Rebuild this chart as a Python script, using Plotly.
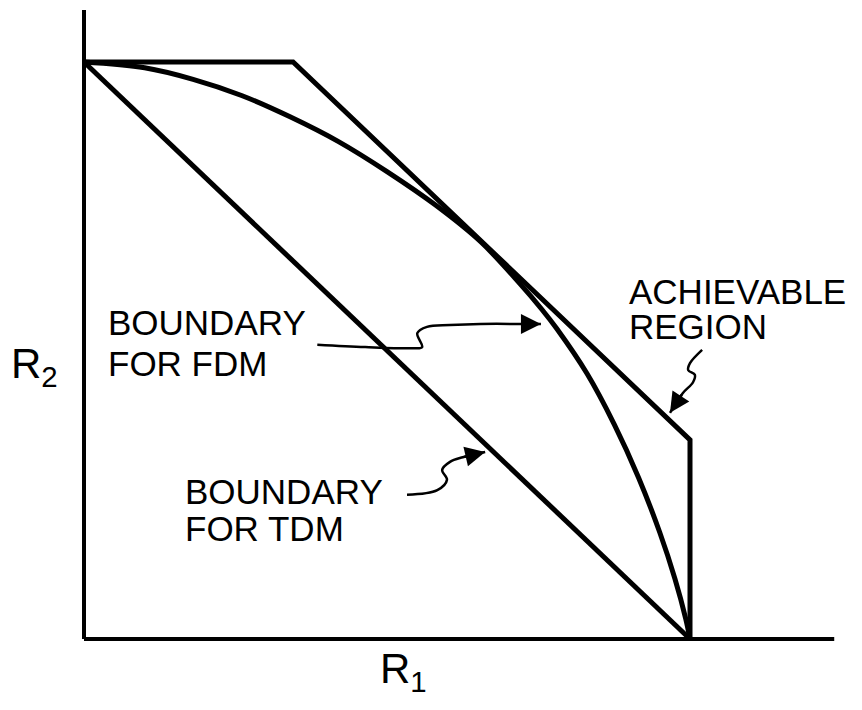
import plotly.graph_objects as go

# Rate pairs (R1, R2), normalised so the single-user capacities are 1
region_r1 = [0.0, 0.345, 1.0, 1.0]
region_r2 = [1.0, 1.0, 0.345, 0.0]

tdm_r1 = [0.0, 1.0]
tdm_r2 = [1.0, 0.0]

fdm_r1 = [0.0, 0.10, 0.18, 0.26, 0.34, 0.42, 0.50, 0.58, 0.655, 0.72,
          0.755, 0.78, 0.83, 0.875, 0.915, 0.95, 0.975, 0.993, 1.0]
fdm_r2 = [1.0, 0.990, 0.970, 0.942, 0.905, 0.862, 0.810, 0.752, 0.688, 0.615,
          0.572, 0.538, 0.460, 0.372, 0.280, 0.185, 0.105, 0.035, 0.0]

# Axis extents
r1_axis_end = 1.238
r2_axis_end = 1.090

# Leader lines (squiggles) pointing from labels to curves
fdm_lead_x = [0.385, 0.464, 0.543, 0.558, 0.550, 0.566, 0.604, 0.654, 0.731]
fdm_lead_y = [0.510, 0.506, 0.504, 0.506, 0.530, 0.541, 0.544, 0.546, 0.546]
fdm_tip = (0.754, 0.546)

tdm_lead_x = [0.533, 0.583, 0.599, 0.591, 0.604, 0.625]
tdm_lead_y = [0.250, 0.258, 0.276, 0.293, 0.307, 0.315]
tdm_tip = (0.662, 0.324)

ach_lead_x = [1.020, 1.000, 0.997, 1.008, 1.005, 0.988]
ach_lead_y = [0.501, 0.478, 0.466, 0.458, 0.445, 0.426]
ach_tip = (0.967, 0.392)

FONT = "Liberation Sans"
INK = "black"
W, H = 862, 710

fig = go.Figure()

# axes
fig.add_trace(go.Scatter(x=[0, 0], y=[r2_axis_end, 0], mode="lines",
                         line=dict(color=INK, width=4)))
fig.add_trace(go.Scatter(x=[0, r1_axis_end], y=[0, 0], mode="lines",
                         line=dict(color=INK, width=4)))

# achievable region boundary
fig.add_trace(go.Scatter(x=region_r1, y=region_r2, mode="lines",
                         line=dict(color=INK, width=5)))
# TDM boundary
fig.add_trace(go.Scatter(x=tdm_r1, y=tdm_r2, mode="lines",
                         line=dict(color=INK, width=5)))
# FDM boundary
fig.add_trace(go.Scatter(x=fdm_r1, y=fdm_r2, mode="lines",
                         line=dict(color=INK, width=5, shape="spline", smoothing=1.0)))

# leader squiggles with arrowheads
for lx, ly, tip in [(fdm_lead_x, fdm_lead_y, fdm_tip),
                    (tdm_lead_x, tdm_lead_y, tdm_tip),
                    (ach_lead_x, ach_lead_y, ach_tip)]:
    fig.add_trace(go.Scatter(x=lx + [tip[0]], y=ly + [tip[1]], mode="lines",
                             line=dict(color=INK, width=2.5, shape="spline", smoothing=1.0)))
    fig.add_annotation(x=tip[0], y=tip[1], ax=lx[-1], ay=ly[-1],
                       xref="x", yref="y", axref="x", ayref="y",
                       text="", showarrow=True, arrowhead=2, arrowsize=1.6,
                       arrowwidth=2.5, arrowcolor=INK)


def px_label(txt, left, mid, size):
    fig.add_annotation(x=left / W, y=1 - mid / H, xref="paper", yref="paper",
                       text=txt, showarrow=False, xanchor="left", yanchor="middle",
                       font=dict(family=FONT, size=size, color=INK))


px_label("ACHIEVABLE", 627, 291, 35)
px_label("REGION", 627, 326, 35)
px_label("BOUNDARY", 106, 322, 35)
px_label("FOR FDM", 106, 363, 35)
px_label("BOUNDARY", 183, 491, 35)
px_label("FOR TDM", 183, 528, 35)

px_label("R<sub>2</sub>", 9, 366, 42)
px_label("R<sub>1</sub>", 378, 671, 42)

fig.update_layout(
    width=W, height=H,
    margin=dict(l=0, r=0, t=0, b=0),
    paper_bgcolor="white", plot_bgcolor="white",
    showlegend=False,
    xaxis=dict(range=[-84 / 606, 778 / 606], visible=False, fixedrange=True),
    yaxis=dict(range=[-71 / 577, 639 / 577], visible=False, fixedrange=True),
)

fig.write_html("out.html")
